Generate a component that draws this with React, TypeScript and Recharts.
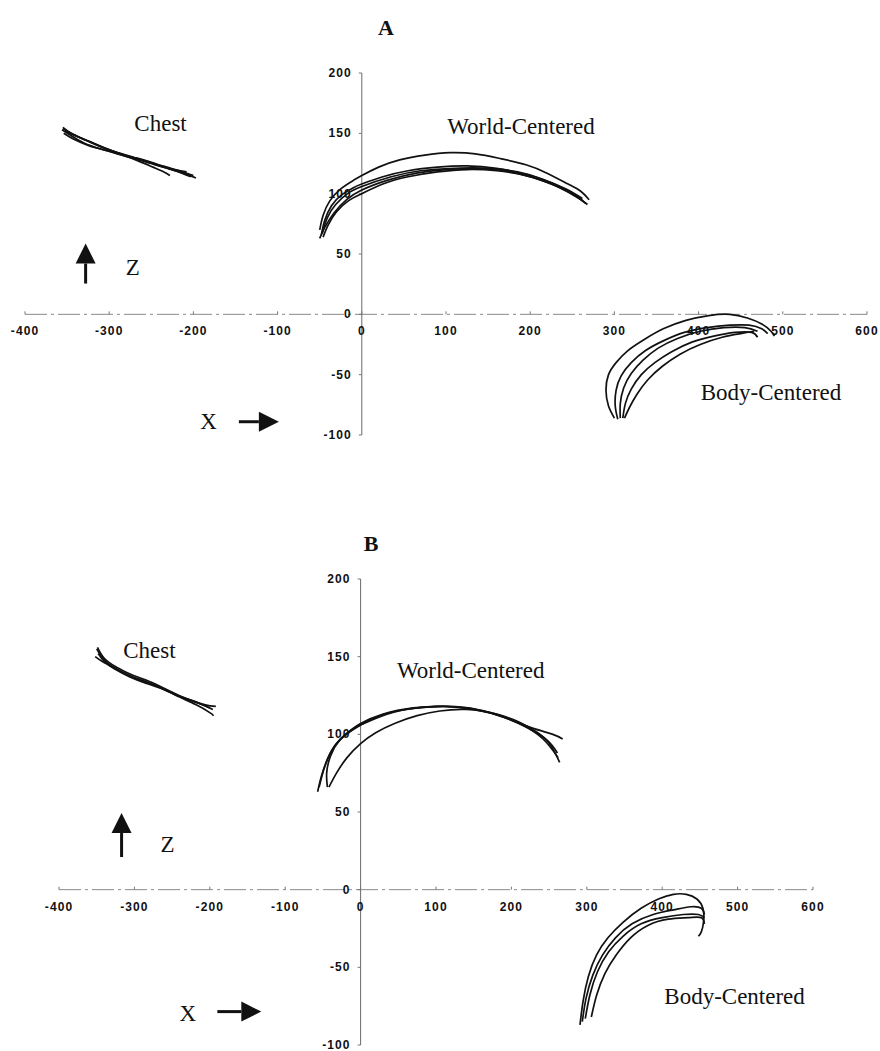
import React from 'react';
import { ScatterChart, Scatter, XAxis, YAxis, ReferenceLine } from 'recharts';

type Pt = [number, number];

// ---- panel A: hand trajectories in the x / z plane ----
const chestA1: Pt[] = [[-355, 155], [-345, 150], [-330, 145], [-310, 139], [-290, 134], [-270, 130], [-250, 126], [-230, 121], [-212, 117], [-197, 113]];
const chestA2: Pt[] = [[-356, 153], [-345, 148], [-330, 142], [-310, 137], [-290, 133], [-270, 129], [-250, 125], [-230, 121], [-208, 118]];
const chestA3: Pt[] = [[-354, 150], [-342, 145], [-325, 140], [-305, 136], [-285, 132], [-265, 127], [-248, 122], [-235, 118], [-228, 115]];
const chestA4: Pt[] = [[-352, 152], [-340, 148], [-322, 143], [-302, 137], [-282, 132], [-262, 128], [-242, 124], [-222, 120], [-200, 115]];
const chestA5: Pt[] = [[-355, 154], [-343, 149], [-327, 144], [-307, 138], [-287, 133], [-267, 129], [-245, 124], [-222, 119], [-203, 114]];

const worldA1: Pt[] = [[-50, 70], [-46, 82], [-38, 94], [-25, 104], [-10, 111], [0, 115], [20, 122], [45, 128], [75, 132], [105, 134], [135, 133], [165, 129], [195, 124], [220, 117], [245, 108], [260, 102], [270, 95]];
const worldA2: Pt[] = [[-48, 66], [-44, 78], [-36, 90], [-24, 99], [-10, 105], [0, 108], [25, 114], [55, 119], [90, 122], [125, 123], [160, 121], [195, 116], [225, 109], [250, 100], [266, 92]];
const worldA3: Pt[] = [[-46, 64], [-40, 74], [-30, 85], [-16, 94], [0, 100], [25, 108], [55, 114], [90, 118], [125, 120], [160, 119], [195, 115], [225, 108], [250, 100], [263, 94]];
const worldA4: Pt[] = [[-50, 63], [-44, 72], [-33, 84], [-18, 95], [0, 103], [30, 111], [65, 117], [100, 120], [135, 121], [170, 119], [205, 113], [235, 105], [258, 96], [268, 91]];
const worldA5: Pt[] = [[-47, 67], [-41, 80], [-31, 91], [-17, 100], [0, 106], [35, 114], [70, 119], [110, 121], [150, 121], [185, 118], [215, 112], [242, 104], [262, 96]];

const bodyA1: Pt[] = [[300, -86], [293, -76], [290, -63], [293, -50], [302, -40], [316, -30], [335, -21], [358, -12], [385, -5], [412, -1], [437, 0], [458, -3], [475, -8], [486, -14], [490, -18]];
const bodyA2: Pt[] = [[304, -87], [301, -76], [302, -63], [308, -51], [320, -40], [337, -30], [358, -22], [383, -15], [410, -11], [437, -9], [460, -9], [475, -12], [482, -16]];
const bodyA3: Pt[] = [[307, -86], [307, -74], [311, -61], [320, -49], [334, -38], [352, -28], [375, -20], [402, -14], [430, -11], [455, -11], [470, -14]];
const bodyA4: Pt[] = [[310, -86], [313, -74], [320, -62], [332, -50], [348, -40], [368, -31], [392, -23], [418, -18], [443, -15], [463, -15], [470, -19]];
const bodyA5: Pt[] = [[312, -86], [318, -77], [327, -66], [340, -54], [357, -43], [378, -33], [402, -25], [428, -19], [450, -16], [466, -14]];

// ---- panel B ----
const chestB1: Pt[] = [[-350, 155], [-342, 149], [-330, 144], [-312, 139], [-292, 135], [-270, 131], [-248, 126], [-226, 122], [-206, 119], [-192, 118]];
const chestB2: Pt[] = [[-348, 152], [-340, 147], [-326, 142], [-306, 137], [-285, 133], [-262, 129], [-240, 124], [-218, 119], [-200, 114], [-195, 112]];
const chestB3: Pt[] = [[-352, 150], [-343, 147], [-328, 143], [-308, 138], [-286, 134], [-264, 130], [-242, 125], [-220, 121], [-200, 117]];
const chestB4: Pt[] = [[-349, 156], [-340, 149], [-323, 143], [-302, 138], [-280, 134], [-258, 129], [-236, 124], [-214, 120], [-196, 116]];

const worldB1: Pt[] = [[-57, 63], [-52, 73], [-44, 84], [-32, 94], [-16, 101], [0, 106], [25, 112], [60, 116], [100, 118], [140, 117], [180, 113], [210, 108], [235, 101], [252, 93], [264, 82]];
const worldB2: Pt[] = [[-55, 66], [-49, 77], [-40, 88], [-27, 97], [-12, 103], [0, 107], [30, 113], [70, 117], [110, 118], [150, 116], [190, 111], [222, 104], [248, 96], [261, 88]];
const worldB3: Pt[] = [[-44, 66], [-45, 75], [-40, 86], [-28, 96], [-12, 103], [0, 106], [35, 113], [75, 117], [115, 118], [155, 116], [195, 110], [228, 104], [255, 100], [268, 97]];
const worldB4: Pt[] = [[-42, 66], [-32, 75], [-18, 85], [0, 94], [20, 101], [45, 107], [75, 112], [105, 115], [140, 116], [180, 113], [215, 106], [242, 97], [262, 85]];

const bodyB1: Pt[] = [[291, -87], [295, -72], [302, -56], [313, -42], [328, -31], [348, -21], [372, -12], [395, -6], [415, -3], [432, -3], [446, -6], [454, -12], [455, -20], [452, -27], [448, -30]];
const bodyB2: Pt[] = [[294, -85], [299, -70], [308, -55], [321, -42], [338, -31], [360, -22], [388, -16], [415, -13], [438, -11], [452, -12], [456, -16]];
const bodyB3: Pt[] = [[298, -83], [304, -68], [314, -53], [329, -40], [348, -30], [372, -22], [400, -18], [428, -16], [448, -16], [456, -18]];
const bodyB4: Pt[] = [[306, -82], [313, -68], [324, -54], [339, -42], [358, -31], [381, -23], [408, -19], [435, -18], [452, -18], [456, -22]];

// axis ticks
const xTicks = [-400, -300, -200, -100, 0, 100, 200, 300, 400, 500, 600];
const zTicks = [-100, -50, 0, 50, 100, 150, 200];

// text labels, anchored in data units
const notesA = [
  { x: -239, y: 158, text: 'Chest' },
  { x: 189, y: 156, text: 'World-Centered' },
  { x: 486, y: -65, text: 'Body-Centered' },
  { x: -272, y: 39, text: 'Z' },
  { x: -182, y: -89, text: 'X' },
];
const notesB = [
  { x: -280, y: 154, text: 'Chest' },
  { x: 146, y: 141, text: 'World-Centered' },
  { x: 496, y: -69, text: 'Body-Centered' },
  { x: -256, y: 29, text: 'Z' },
  { x: -229, y: -80, text: 'X' },
];
// arrow tails, anchored in data units
const arrowsA = [
  { x: -328, y: 25.5, dir: 'up' },
  { x: -146, y: -89, dir: 'right' },
];
const arrowsB = [
  { x: -317, y: 21, dir: 'up' },
  { x: -190, y: -78.5, dir: 'right' },
];

const SERIF = '"Liberation Serif", "Times New Roman", serif';
const SANS = '"Liberation Sans", Arial, sans-serif';

const toRows = (pts: Pt[]) => pts.map(([x, y]) => ({ x, y }));
const noDot = () => <g />;

const XTick = (props: any) => {
  const { cx, cy, payload } = props;
  return (
    <g>
      <line x1={cx} y1={cy} x2={cx} y2={cy - 3} stroke="#777" strokeWidth={1} />
      <text x={cx} y={cy + 17} textAnchor="middle" dominantBaseline="central"
        fontFamily={SANS} fontWeight={700} fontSize={12} letterSpacing={1.1} fill="#111">
        {payload.x}
      </text>
    </g>
  );
};

const ZTick = (props: any) => {
  const { cx, cy, payload } = props;
  return (
    <g>
      <line x1={cx - 3} y1={cy} x2={cx} y2={cy} stroke="#777" strokeWidth={1} />
      <text x={cx - 10} y={cy} textAnchor="end" dominantBaseline="central"
        fontFamily={SANS} fontWeight={700} fontSize={12} letterSpacing={1.1} fill="#111">
        {payload.y}
      </text>
    </g>
  );
};

const Note = (props: any) => {
  const { cx, cy, payload } = props;
  return (
    <text x={cx} y={cy} textAnchor="middle" dominantBaseline="central"
      fontFamily={SERIF} fontSize={23} fill="#111">
      {payload.text}
    </text>
  );
};

const makeArrow = (len: number) => (props: any) => {
  const { cx, cy, payload } = props;
  const head = 20;
  const half = 10;
  if (payload.dir === 'up') {
    const tip = cy - len;
    return (
      <g>
        <line x1={cx} y1={cy} x2={cx} y2={tip + head} stroke="#111" strokeWidth={3} />
        <polygon points={`${cx},${tip} ${cx - half},${tip + head} ${cx + half},${tip + head}`} fill="#111" />
      </g>
    );
  }
  const tip = cx + len;
  return (
    <g>
      <line x1={cx} y1={cy} x2={tip - head} y2={cy} stroke="#111" strokeWidth={3} />
      <polygon points={`${tip},${cy} ${tip - head},${cy - half} ${tip - head},${cy + half}`} fill="#111" />
    </g>
  );
};

interface PanelProps {
  top: number;
  height: number;
  margin: { top: number; right: number; bottom: number; left: number };
  traces: Pt[][];
  notes: { x: number; y: number; text: string }[];
  arrows: { x: number; y: number; dir: string }[];
  arrowLen: number;
}

const Panel: React.FC<PanelProps> = ({ top, height, margin, traces, notes, arrows, arrowLen }) => (
  <div style={{ position: 'absolute', left: 0, top }}>
    <ScatterChart width={880} height={height} margin={margin}>
      <XAxis type="number" dataKey="x" domain={[-400, 600]} ticks={xTicks} hide />
      <YAxis type="number" dataKey="y" domain={[-100, 200]} ticks={zTicks} hide />
      <ReferenceLine y={0} stroke="#8a8a8a" strokeWidth={1} strokeDasharray="22 4 3 4" />
      <ReferenceLine x={0} stroke="#6a6a6a" strokeWidth={1} />
      <Scatter data={xTicks.map((x) => ({ x, y: 0 }))} shape={XTick} isAnimationActive={false} />
      <Scatter data={zTicks.map((y) => ({ x: 0, y }))} shape={ZTick} isAnimationActive={false} />
      {traces.map((t, i) => (
        <Scatter
          key={i}
          data={toRows(t)}
          fill="#111"
          line={{ stroke: '#111', strokeWidth: 1.7 }}
          lineJointType="natural"
          shape={noDot}
          isAnimationActive={false}
        />
      ))}
      <Scatter data={notes} shape={Note} isAnimationActive={false} />
      <Scatter data={arrows} shape={makeArrow(arrowLen)} isAnimationActive={false} />
    </ScatterChart>
  </div>
);

const Title = ({ text, x, y }: { text: string; x: number; y: number }) => (
  <div style={{
    position: 'absolute', left: x - 20, top: y - 14, width: 40, textAlign: 'center',
    fontFamily: SERIF, fontWeight: 700, fontSize: 22, lineHeight: '28px', color: '#111',
  }}>
    {text}
  </div>
);

export default function App() {
  return (
    <div style={{ position: 'absolute', left: 0, top: 0, width: 880, height: 1051, background: '#fff' }}>
      <Title text="A" x={386} y={28} />
      <Panel
        top={0}
        height={470}
        margin={{ top: 73, right: 13, bottom: 35, left: 25 }}
        traces={[chestA1, chestA2, chestA3, chestA4, chestA5, worldA1, worldA2, worldA3, worldA4, worldA5, bodyA1, bodyA2, bodyA3, bodyA4, bodyA5]}
        notes={notesA}
        arrows={arrowsA}
        arrowLen={40}
      />
      <Title text="B" x={371} y={544} />
      <Panel
        top={500}
        height={551}
        margin={{ top: 79, right: 67, bottom: 6, left: 59 }}
        traces={[chestB1, chestB2, chestB3, chestB4, worldB1, worldB2, worldB3, worldB4, bodyB1, bodyB2, bodyB3, bodyB4]}
        notes={notesB}
        arrows={arrowsB}
        arrowLen={44}
      />
    </div>
  );
}
